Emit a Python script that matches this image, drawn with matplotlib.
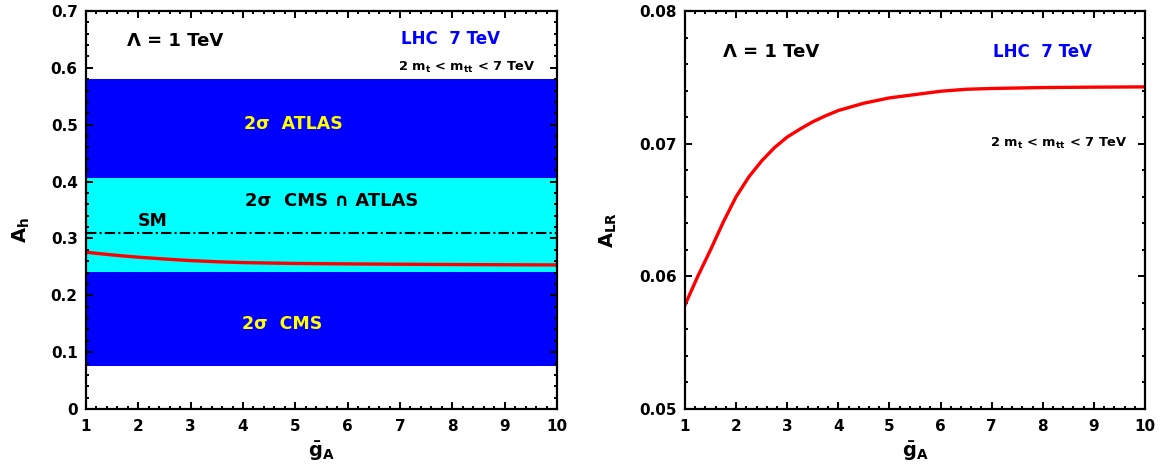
import matplotlib
matplotlib.use("Agg")
import matplotlib.pyplot as plt
from matplotlib.ticker import MultipleLocator, FuncFormatter

plt.rcParams['font.family'] = ['DejaVu Sans']
plt.rcParams['font.weight'] = 'bold'
plt.rcParams['mathtext.fontset'] = 'dejavusans'
plt.rcParams['mathtext.default'] = 'bf'

# ---- data ----
gA_left = [1, 1.25, 1.5, 1.75, 2, 2.5, 3, 3.5, 4, 4.5, 5, 6, 7, 8, 9, 10]
Ah = [0.2757, 0.2733, 0.2710, 0.2689, 0.2670, 0.2638, 0.2610, 0.2590, 0.2575,
      0.2567, 0.2560, 0.2552, 0.2546, 0.2541, 0.2537, 0.2534]
SM_Ah = 0.310
atlas_band = (0.4056, 0.5806)
overlap_band = (0.2417, 0.4056)
cms_band = (0.0750, 0.2417)

gA_right = [1, 1.25, 1.5, 1.75, 2, 2.25, 2.5, 2.75, 3, 3.25, 3.5, 3.75, 4, 4.5,
            5, 5.5, 6, 6.5, 7, 8, 9, 10]
ALR = [0.05785, 0.0600, 0.0620, 0.0641, 0.0660, 0.0675, 0.0687, 0.0697, 0.0705,
       0.0711, 0.07165, 0.0721, 0.0725, 0.07305, 0.07345, 0.0737, 0.07395,
       0.0741, 0.07416, 0.07423, 0.07426, 0.07428]

xticks = [1, 2, 3, 4, 5, 6, 7, 8, 9, 10]
yticks_left = [0, 0.1, 0.2, 0.3, 0.4, 0.5, 0.6, 0.7]
yticks_right = [0.05, 0.06, 0.07, 0.08]

fig = plt.figure(figsize=(11.64, 4.66), dpi=100)
axL = fig.add_axes([86/1164, 1-409/466, 471/1164, 398/466])
axR = fig.add_axes([685/1164, 1-409/466, 460/1164, 398/466])

def style(ax):
    for s in ax.spines.values():
        s.set_linewidth(1.6)
    ax.tick_params(which='both', direction='in', top=True, right=True,
                   labelsize=11, width=1.4)
    ax.tick_params(axis='x', pad=7)
    ax.tick_params(axis='y', pad=6)
    ax.tick_params(which='major', length=5)
    ax.tick_params(which='minor', length=2.5)
    for lab in ax.get_xticklabels() + ax.get_yticklabels():
        lab.set_fontweight('bold')

# ---- left panel ----
axL.axhspan(*atlas_band, color='#0000ff', lw=0)
axL.axhspan(*overlap_band, color='#00ffff', lw=0)
axL.axhspan(*cms_band, color='#0000ff', lw=0)
axL.axhline(SM_Ah, color='black', lw=1.5, ls=(0, (5, 1.5, 1, 1.5)))
axL.plot(gA_left, Ah, color='red', lw=2.4, solid_joinstyle='round')
axL.set_xlim(1, 10)
axL.set_ylim(0, 0.7)
axL.set_xticks(xticks)
axL.set_yticks(yticks_left)
axL.xaxis.set_minor_locator(MultipleLocator(0.2))
axL.yaxis.set_minor_locator(MultipleLocator(0.02))
axL.yaxis.set_major_formatter(FuncFormatter(lambda v, p: '0' if abs(v) < 1e-9 else f'{v:.1f}'))
style(axL)
axL.set_xlabel(r'$\bar{\mathbf{g}}_\mathbf{A}$', fontsize=14, labelpad=4)
axL.set_ylabel(r'$\mathbf{A_h}$', fontsize=14)
axL.yaxis.set_label_coords(-0.115, 0.45)

axL.text(2.70, 0.647, 'Λ = 1 TeV', fontsize=13, ha='center', va='center', fontweight='bold')
axL.text(7.96, 0.650, 'LHC  7 TeV', fontsize=12, ha='center', va='center',
         color='#0000ff', fontweight='bold')
axL.text(8.28, 0.600, r'2 m$_\mathbf{t}$ < m$_\mathbf{tt}$ < 7 TeV', fontsize=9.4,
         ha='center', va='center', fontweight='bold')
axL.text(4.955, 0.501, '2σ  ATLAS', fontsize=12.5, ha='center', va='center',
         color='#ffff00', fontweight='bold')
axL.text(5.70, 0.366, '2σ  CMS ∩ ATLAS', fontsize=13, ha='center', va='center',
         color='black', fontweight='bold')
axL.text(2.28, 0.331, 'SM', fontsize=12.5, ha='center', va='center', fontweight='bold')
axL.text(4.745, 0.1495, '2σ  CMS', fontsize=12.5, ha='center', va='center',
         color='#ffff00', fontweight='bold')

# ---- right panel ----
axR.plot(gA_right, ALR, color='red', lw=2.4, solid_joinstyle='round')
axR.set_xlim(1, 10)
axR.set_ylim(0.05, 0.08)
axR.set_xticks(xticks)
axR.set_yticks(yticks_right)
axR.xaxis.set_minor_locator(MultipleLocator(0.2))
axR.yaxis.set_minor_locator(MultipleLocator(0.002))
axR.yaxis.set_major_formatter(FuncFormatter(lambda v, p: f'{v:.2f}'))
style(axR)
axR.set_xlabel(r'$\bar{\mathbf{g}}_\mathbf{A}$', fontsize=14, labelpad=4)
axR.set_ylabel(r'$\mathbf{A_{LR}}$', fontsize=14)
axR.yaxis.set_label_coords(-0.143, 0.45)

axR.text(2.69, 0.07693, 'Λ = 1 TeV', fontsize=13, ha='center', va='center', fontweight='bold')
axR.text(8.0, 0.07690, 'LHC  7 TeV', fontsize=12, ha='center', va='center',
         color='#0000ff', fontweight='bold')
axR.text(8.31, 0.07005, r'2 m$_\mathbf{t}$ < m$_\mathbf{tt}$ < 7 TeV', fontsize=9.4,
         ha='center', va='center', fontweight='bold')

fig.savefig('out.png', dpi=100)
